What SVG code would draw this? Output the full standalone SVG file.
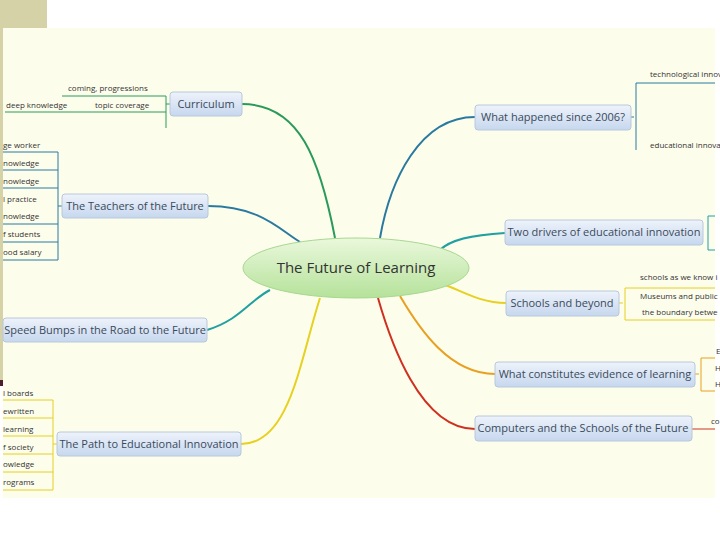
<svg xmlns="http://www.w3.org/2000/svg" width="720" height="540" viewBox="0 0 720 540">
<defs>
<linearGradient id="nb" x1="0" y1="0" x2="0" y2="1"><stop offset="0" stop-color="#eef3fb"/><stop offset="1" stop-color="#c6d7ee"/></linearGradient>
<linearGradient id="cg" x1="0" y1="0" x2="0" y2="1"><stop offset="0" stop-color="#eaf8dc"/><stop offset="1" stop-color="#b5e29a"/></linearGradient>
<style>
.n{fill:url(#nb);stroke:#b8c8dc;stroke-width:1}
.t{font-family:"Open Sans","DejaVu Sans",sans-serif;font-size:11px;fill:#3a4a5a}
.s{font-family:"Open Sans","DejaVu Sans",sans-serif;font-size:8px;fill:#333}
.c{fill:none;stroke-width:2}
.l{fill:none;stroke-width:1}
</style>
</defs>
<rect width="720" height="540" fill="#fff"/>
<rect x="3" y="28" width="712" height="470" fill="#fdfdec"/>
<rect x="0" y="0" width="47" height="28" fill="#d6d2a8"/>
<rect x="0" y="28" width="3" height="357" fill="#d6d2a8"/>
<rect x="0" y="380" width="3" height="6" fill="#4a2030"/>
<g id="connectors">
<path class="c" stroke="#2a9a5a" d="M242 104 C300 104 320 160 335 238"/>
<path class="c" stroke="#2a7aa0" d="M208 206 C260 206 280 230 300 242"/>
<path class="c" stroke="#20a0a0" d="M207 330 C240 320 250 300 270 290"/>
<path class="c" stroke="#e6d020" d="M241 444 C290 444 300 360 320 298"/>
<path class="c" stroke="#2a7aa0" d="M475 117 C420 117 390 180 380 238"/>
<path class="c" stroke="#20a0a0" d="M505 233 C470 235 450 240 440 250"/>
<path class="c" stroke="#e6d020" d="M506 303 C480 303 460 290 445 285"/>
<path class="c" stroke="#e8a020" d="M495 374 C450 374 420 330 400 296"/>
<path class="c" stroke="#d03020" d="M475 429 C420 429 390 340 378 298"/>
<!-- Curriculum sub -->
<path class="l" stroke="#2a9a5a" d="M170 104 H166 M166 96 V128 M62 96 H166 M5 112 H166"/>
<!-- teachers sub -->
<path class="l" stroke="#2a7aa0" d="M62 206 H58 M58 152 V260 M3 152 H58 M3 170 H58 M3 188 H58 M3 224 H58 M3 242 H58 M3 260 H58"/>
<path class="l" stroke="#e6d020" d="M57 444 H53 M53 400 V490 M3 400 H53 M3 418 H53 M3 436 H53 M3 454 H53 M3 472 H53 M3 490 H53"/>
<path class="l" stroke="#2a7aa0" d="M631 117 H634 M636 83 V150 M636 83 H715"/>
<path class="l" stroke="#20a0a0" d="M708 216 V250 M708 216 H715 M708 250 H715"/>
<path class="l" stroke="#e6d020" d="M619 303 H623 M625 288 V320 M625 288 H715 M625 320 H715"/>
<path class="l" stroke="#e8a020" d="M695 374 H699 M701 358 V391 M701 358 H715 M701 391 H715"/>
<path class="l" stroke="#d03020" d="M692 429 H715"/>
</g>
<g id="center"><ellipse cx="356" cy="268" rx="113" ry="30" fill="url(#cg)" stroke="#a8d890"/><text x="356" y="273" text-anchor="middle" style="font-family:'Open Sans',sans-serif;font-size:15px;fill:#333">The Future of Learning</text></g>
<g id="curriculum"><rect class="n" x="170" y="92" width="72" height="24" rx="3"/><text class="t" x="206" y="108" text-anchor="middle">Curriculum</text>
<text class="s" x="68" y="91">coming, progressions</text><text class="s" x="6" y="108">deep knowledge</text><text class="s" x="95" y="108">topic coverage</text></g>
<g id="teachers"><rect class="n" x="62" y="194" width="146" height="24" rx="3"/><text class="t" x="135" y="210" text-anchor="middle">The Teachers of the Future</text>
<text class="s" x="3" y="148">ge worker</text><text class="s" x="3" y="166">nowledge</text><text class="s" x="3" y="184">nowledge</text><text class="s" x="3" y="202">l practice</text><text class="s" x="3" y="219">nowledge</text><text class="s" x="3" y="237">f students</text><text class="s" x="3" y="255">ood salary</text></g>
<g id="speed"><rect class="n" x="3" y="318" width="204" height="24" rx="3"/><text class="t" x="105" y="334" text-anchor="middle">Speed Bumps in the Road to the Future</text></g>
<g id="path"><rect class="n" x="57" y="432" width="184" height="24" rx="3"/><text class="t" x="149" y="448" text-anchor="middle">The Path to Educational Innovation</text>
<text class="s" x="3" y="396">l boards</text><text class="s" x="3" y="414">ewritten</text><text class="s" x="3" y="432">learning</text><text class="s" x="3" y="450">f society</text><text class="s" x="3" y="467">owledge</text><text class="s" x="3" y="485">rograms</text></g>
<g id="happened"><rect class="n" x="475" y="105" width="156" height="25" rx="3"/><text class="t" x="553" y="121" text-anchor="middle">What happened since 2006?</text>
<text class="s" x="650" y="77">technological innov</text><text class="s" x="650" y="148">educational innova</text></g>
<g id="drivers"><rect class="n" x="505" y="220" width="198" height="25" rx="3"/><text class="t" x="604" y="236" text-anchor="middle">Two drivers of educational innovation</text></g>
<g id="schools"><rect class="n" x="506" y="291" width="113" height="25" rx="3"/><text class="t" x="562" y="307" text-anchor="middle">Schools and beyond</text>
<text class="s" x="640" y="280">schools as we know i</text><text class="s" x="640" y="299">Museums  and  public</text><text class="s" x="642" y="315">the boundary  betwe</text></g>
<g id="evidence"><rect class="n" x="495" y="362" width="200" height="25" rx="3"/><text class="t" x="595" y="378" text-anchor="middle">What constitutes evidence of learning</text>
<text class="s" x="716" y="354">E</text><text class="s" x="715" y="371">H</text><text class="s" x="715" y="387">H</text></g>
<g id="computers"><rect class="n" x="475" y="416" width="217" height="25" rx="3"/><text class="t" x="583" y="432" text-anchor="middle">Computers and the Schools of the Future</text>
<text class="s" x="711" y="424">co</text></g>
</svg>
